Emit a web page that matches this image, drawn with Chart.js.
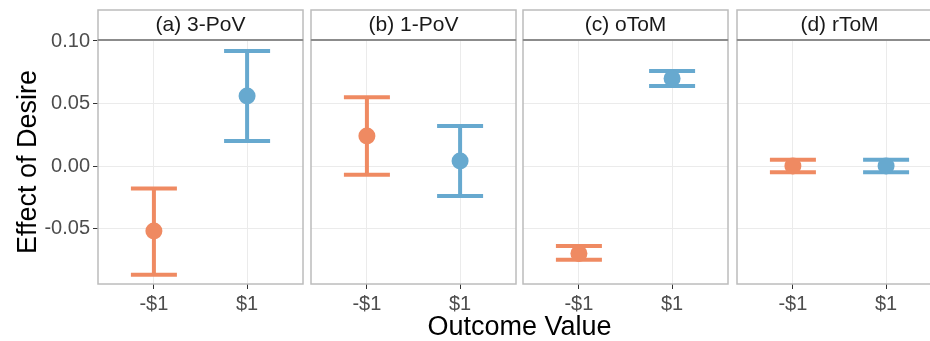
<!DOCTYPE html>
<html>
<head>
<meta charset="utf-8">
<script src="https://cdn.jsdelivr.net/npm/chart.js@4.4.0/dist/chart.umd.min.js"></script>
<style>
  body { margin: 0; width: 930px; height: 341px; overflow: hidden; background: #fff; position: relative; font-family: "Liberation Sans", Arial, sans-serif; }
  .panel { position: absolute; top: 0; height: 341px; }
  #xtitle { position: absolute; left: 0; width: 1039px; top: 311px; line-height: 30px; text-align: center; font-size: 27px; color: #000; }
</style>
</head>
<body>
<div class="panel" style="left:0;width:304px"><canvas id="c0"></canvas></div>
<div class="panel" style="left:310px;width:207px"><canvas id="c1"></canvas></div>
<div class="panel" style="left:522px;width:207px"><canvas id="c2"></canvas></div>
<div class="panel" style="left:736px;width:207px"><canvas id="c3"></canvas></div>
<div id="xtitle">Outcome Value</div>
<script>
// facets and categories
const panels = ['(a) 3-PoV', '(b) 1-PoV', '(c) oToM', '(d) rToM'];
const outcomes = ['-$1', '$1'];
const yTicks = [-0.05, 0.00, 0.05, 0.10];

// -$1 outcome: mean and interval per panel
const negMean = [-0.052, 0.024, -0.070, 0.000];
const negLow  = [-0.087, -0.007, -0.075, -0.005];
const negHigh = [-0.018, 0.055, -0.064, 0.005];
// $1 outcome
const posMean = [0.056, 0.004, 0.070, 0.000];
const posLow  = [0.020, -0.024, 0.064, -0.005];
const posHigh = [0.092, 0.032, 0.076, 0.005];

const colors = ['#EF8A62', '#67A9CF'];
const tickGray = '#4d4d4d';
const fontFam = '"Liberation Sans", Arial, sans-serif';

// panel border + strip box
const facetFrame = {
  id: 'facetFrame',
  afterDraw(chart) {
    const a = chart.chartArea;
    const ctx = chart.ctx;
    ctx.save();
    ctx.strokeStyle = '#bcbcbc';
    ctx.lineWidth = 1.5;
    ctx.strokeRect(a.left, a.top, a.right - a.left, a.bottom - a.top);
    ctx.strokeRect(a.left, 10, a.right - a.left, a.top - 10);
    ctx.strokeStyle = '#8c8c8c';
    ctx.lineWidth = 2;
    ctx.beginPath();
    ctx.moveTo(a.left, a.top);
    ctx.lineTo(a.right, a.top);
    ctx.stroke();
    ctx.restore();
  }
};

function buildDatasets(p) {
  const means = [negMean[p], posMean[p]];
  const lows = [negLow[p], posLow[p]];
  const highs = [negHigh[p], posHigh[p]];
  const ds = [];
  outcomes.forEach((o, i) => {
    ds.push({
      label: o + ' mean',
      data: [{x: i, y: means[i]}],
      pointRadius: 8.5,
      pointBackgroundColor: colors[i],
      pointBorderWidth: 0,
      order: 1
    });
    ds.push({
      label: o + ' caps',
      data: [{x: i, y: lows[i]}, {x: i, y: highs[i]}],
      pointStyle: 'line',
      pointRadius: 23,
      pointBorderColor: colors[i],
      pointBorderWidth: 4,
      order: 2
    });
    ds.push({
      label: o + ' whisker',
      data: [{x: i, y: lows[i]}, {x: i, y: highs[i]}],
      showLine: true,
      borderColor: colors[i],
      borderWidth: 4,
      pointRadius: 0,
      order: 3
    });
  });
  return ds;
}

panels.forEach((name, p) => {
  const first = p === 0;
  new Chart(document.getElementById('c' + p), {
    type: 'scatter',
    data: { datasets: buildDatasets(p) },
    options: {
      responsive: true,
      maintainAspectRatio: false,
      animation: false,
      layout: { autoPadding: false, padding: { top: 10, bottom: 0, left: first ? 0 : 1, right: 1 } },
      plugins: {
        legend: { display: false },
        tooltip: { enabled: false },
        title: {
          display: true,
          text: name,
          fullSize: false,
          color: '#1a1a1a',
          font: { family: fontFam, size: 21, weight: 'normal', lineHeight: 1.2 },
          padding: { top: 2.4, bottom: 2.4 }
        }
      },
      scales: {
        x: {
          type: 'linear',
          min: -0.6,
          max: 1.6,
          afterBuildTicks: s => { s.ticks = outcomes.map((o, i) => ({ value: i })); },
          afterFit: s => { s.height = 57; s.paddingLeft = 0; s.paddingRight = 0; },
          ticks: {
            autoSkip: false,
            maxRotation: 0,
            padding: 3,
            color: tickGray,
            font: { family: fontFam, size: 20 },
            callback: v => outcomes[v]
          },
          grid: { color: '#ebebeb', lineWidth: 1, tickLength: 5, tickColor: '#333' },
          border: { display: false }
        },
        y: {
          min: -0.0944,
          max: 0.1008,
          afterBuildTicks: s => { s.ticks = yTicks.map(v => ({ value: v })); },
          afterFit: s => { s.width = first ? 98 : 0; },
          title: {
            display: first,
            text: 'Effect of Desire',
            color: '#000',
            font: { family: fontFam, size: 27 },
            padding: { top: 12, bottom: 0 }
          },
          ticks: {
            display: first,
            autoSkip: false,
            padding: 3,
            color: tickGray,
            font: { family: fontFam, size: 20 },
            callback: v => v.toFixed(2)
          },
          grid: { color: '#ebebeb', lineWidth: 1, drawTicks: first, tickLength: 5, tickColor: '#333' },
          border: { display: false }
        }
      }
    },
    plugins: [facetFrame]
  });
});
</script>
</body>
</html>
